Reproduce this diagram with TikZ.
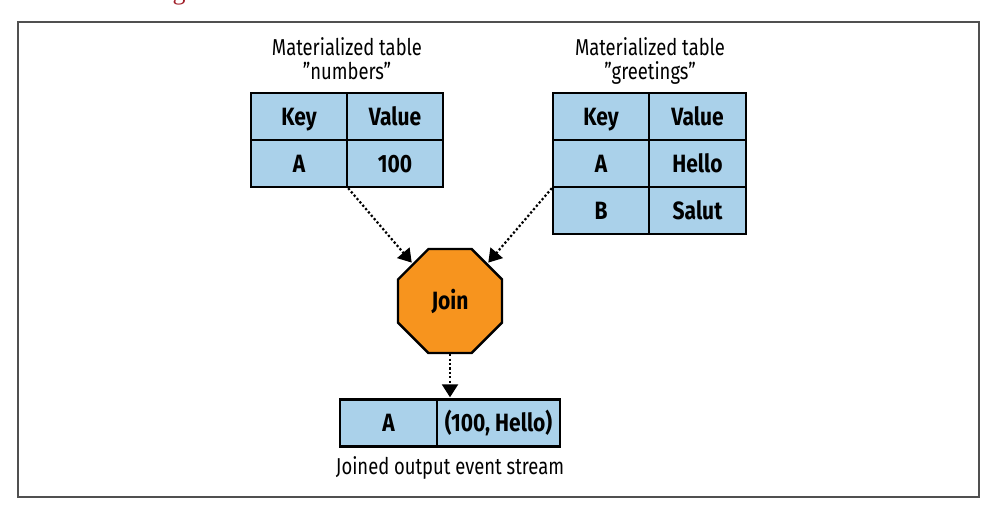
\documentclass[tikz,border=0pt]{standalone}
\usepackage{fontspec}
\setmainfont[FakeStretch=0.80]{Fira Sans}
\newfontfamily\cellfont[FakeStretch=0.84]{Fira Sans}
\newfontfamily\capfont{Liberation Serif}
\usetikzlibrary{shapes.geometric,arrows.meta}
\definecolor{cellblue}{RGB}{170,209,234}
\definecolor{joinorange}{RGB}{247,148,30}
\definecolor{framegray}{RGB}{80,80,80}
\definecolor{figred}{RGB}{160,30,40}
\begin{document}
\begin{tikzpicture}[x=1pt,y=-1pt,
  cell/.style={draw=black, fill=cellblue, line width=2.4pt, minimum height=47pt,
    inner sep=0pt, text height=17.2pt, text depth=0pt,
    font=\fontsize{25}{28}\cellfont\bfseries},
  keycell/.style={cell, minimum width=96pt},
  titletext/.style={font=\fontsize{23}{26}\selectfont, anchor=base, inner sep=0pt},
  flow/.style={line width=2.2pt, dash pattern=on 2.2pt off 2.2pt,
    -{Triangle[length=13pt,width=16pt]}, shorten >=1pt},
  joinbox/.style={regular polygon, regular polygon sides=8, minimum size=112.6pt,
    draw=black, line width=2.4pt, fill=joinorange, inner sep=0pt,
    text height=17.2pt, text depth=0pt,
    font=\fontsize{25}{28}\cellfont\bfseries}
]
\useasboundingbox (0,0) rectangle (990,504);
\node[text=figred, anchor=base, inner sep=0pt, font=\fontsize{26}{28}\capfont] (figcap) at (179,-1) {g};
\draw[framegray, line width=1.5pt] (18,22) rectangle (979,497);

% titles
\node[titletext] (tn1) at (347,55) {Materialized table};
\node[titletext] (tn2) at (347,79) {"numbers"};
\node[titletext] (tg1) at (650,55) {Materialized table};
\node[titletext] (tg2) at (650,79) {"greetings"};

% numbers table
\node[keycell] (nk) at (299,116.5) {Key};
\node[keycell] (nv) at (395,116.5) {Value};
\node[keycell] (na) at (299,163.5) {A};
\node[keycell] (n100) at (395,163.5) {100};

% greetings table
\node[keycell] (gk) at (601,116.5) {Key};
\node[keycell, minimum width=97pt] (gv) at (697.5,116.5) {Value};
\node[keycell] (ga) at (601,163.5) {A};
\node[keycell, minimum width=97pt] (gh) at (697.5,163.5) {Hello};
\node[keycell] (gb) at (601,210.5) {B};
\node[keycell, minimum width=97pt] (gs) at (697.5,210.5) {Salut};

% join
\node[joinbox] (join) at (450,301) {Join};

% output
\node[cell, minimum width=97pt] (oa) at (388.5,423) {A};
\node[cell, minimum width=123pt] (ov) at (498.5,423) {(100, Hello)};
\node[titletext] (ocap) at (450,474) {Joined output event stream};

% connectors
\draw[flow] (na.south east) -- (join.135);
\draw[flow] (ga.south west) -- (join.45);
\draw[flow] (join.south) -- (join.south |- ov.north);
\end{tikzpicture}
\end{document}
